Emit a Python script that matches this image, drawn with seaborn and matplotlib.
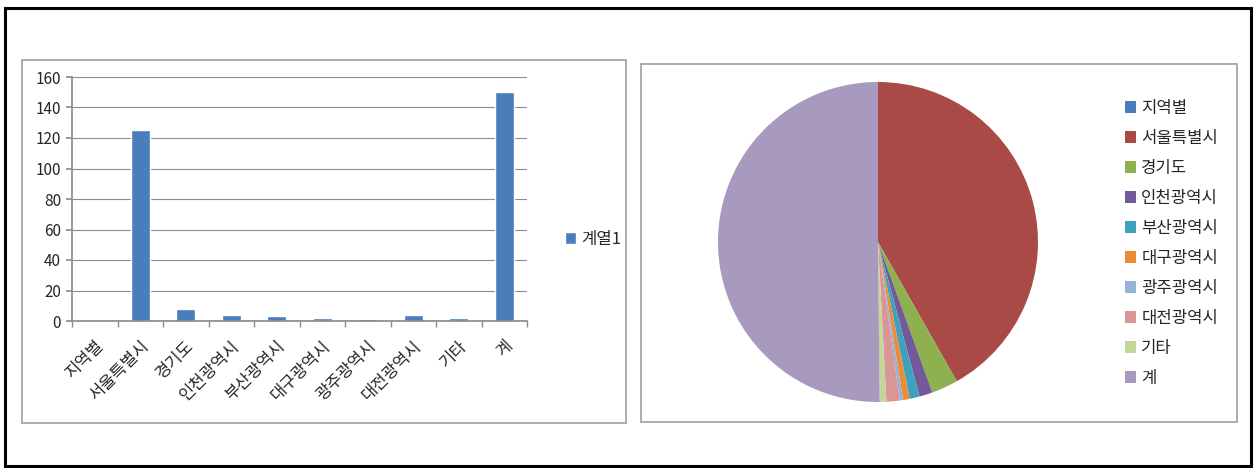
import matplotlib
matplotlib.use("Agg")
import matplotlib.pyplot as plt
from matplotlib.patches import Rectangle
import seaborn as sns
import numpy as np

categories = ["지역별", "서울특별시", "경기도", "인천광역시", "부산광역시",
              "대구광역시", "광주광역시", "대전광역시", "기타", "계"]
values = [0, 125, 8, 4, 3, 2, 1, 4, 2, 150]
series_name = "계열1"
y_ticks = [0, 20, 40, 60, 80, 100, 120, 140, 160]
pie_colors = ["#4A7EBB", "#A94A46", "#8FB04F", "#71599A", "#3FA2BC",
              "#EC8B38", "#95B3D7", "#D99694", "#C3D69B", "#A899BF"]

sns.set_theme(style="white")
plt.rcParams['font.family'] = ['Noto Sans CJK KR', 'DejaVu Sans']

W, H = 1254, 468
fig = plt.figure(figsize=(W / 100, H / 100), dpi=100)

def fx(px):
    return px / W

def fy(py):
    return 1 - py / H

# outer black border
fig.patches.append(Rectangle((fx(5), fy(466)), fx(1251) - fx(5), fy(8) - fy(466),
                             transform=fig.transFigure, fill=False,
                             edgecolor="black", linewidth=2.2, zorder=0))
# chart boxes
for (x0, y0, x1, y1) in [(22, 60, 626, 423), (641, 64, 1237, 422)]:
    fig.patches.append(Rectangle((fx(x0), fy(y1)), fx(x1) - fx(x0), fy(y0) - fy(y1),
                                 transform=fig.transFigure, fill=False,
                                 edgecolor="#A6A6A6", linewidth=1.3, zorder=0))

# bar chart
ax = fig.add_axes([fx(72), fy(321), fx(527) - fx(72), fy(77) - fy(321)])
sns.barplot(x=categories, y=values, color="#4A7EBB", width=0.42, ax=ax,
            saturation=1, label=series_name)
ax.set_ylim(0, 160)
ax.set_xlim(-0.5, len(categories) - 0.5)
ax.set_yticks(y_ticks)
ax.yaxis.grid(True, color="#8C8C8C", linewidth=0.8)
ax.set_axisbelow(True)
for s in ["top", "right"]:
    ax.spines[s].set_visible(False)
ax.spines["left"].set_color("#8C8C8C")
ax.spines["bottom"].set_color("#8C8C8C")
ax.tick_params(axis="y", labelsize=11, length=4, color="#8C8C8C", left=True, pad=4)
ax.set_xticks(range(len(categories)))
ax.set_xticklabels(categories, rotation=45, ha="right", rotation_mode="anchor",
                   fontsize=12)
ax.tick_params(axis="x", length=0, pad=12)
ax.set_xticks(np.arange(-0.5, len(categories), 1), minor=True)
ax.tick_params(axis="x", which="minor", length=4, color="#8C8C8C", bottom=True)
ax.set_xlabel("")
ax.set_ylabel("")
leg = ax.legend(loc="center left", bbox_to_anchor=(1.05, 0.335), frameon=False,
                fontsize=12, handlelength=0.7, handleheight=0.7, handletextpad=0.3)

# pie chart
pax = fig.add_axes([fx(718), fy(402), fx(1038) - fx(718), fy(82) - fy(402)])
wedges, _ = pax.pie(values, colors=pie_colors, startangle=90, counterclock=False,
                    wedgeprops=dict(linewidth=0))
pax.set_xlim(-1, 1)
pax.set_ylim(-1, 1)
pax.set_aspect("equal")
fig.legend(wedges, categories, loc="upper left",
           bbox_to_anchor=(fx(1118), fy(93)), bbox_transform=fig.transFigure,
           frameon=False, fontsize=12, handlelength=0.7, handleheight=0.7,
           handletextpad=0.3, labelspacing=0.78, borderaxespad=0)

fig.savefig("out.png", dpi=100)
